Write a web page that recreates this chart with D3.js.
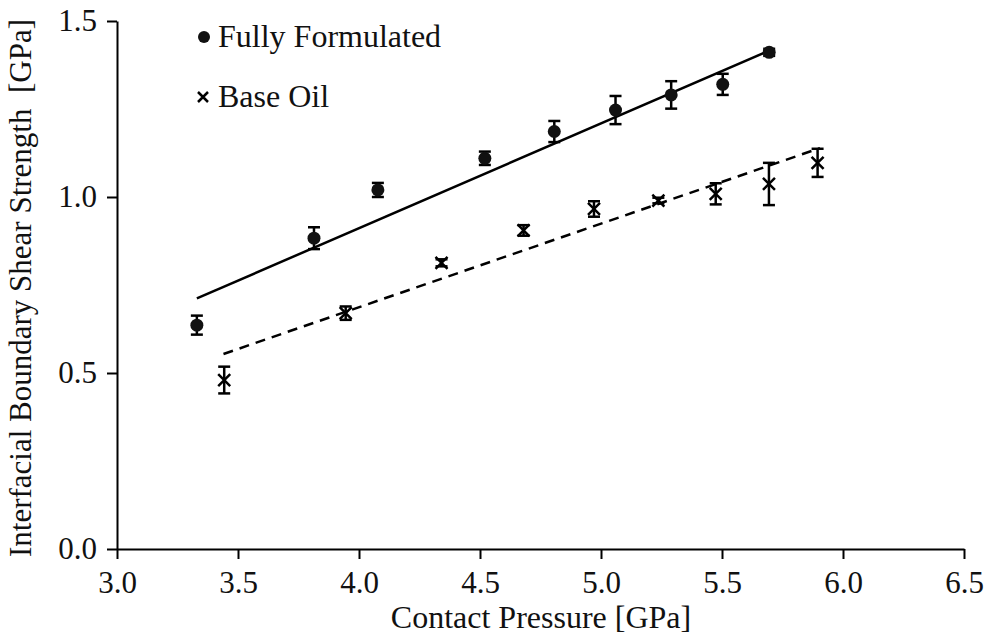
<!DOCTYPE html>
<html>
<head>
<meta charset="utf-8">
<script src="https://cdn.jsdelivr.net/npm/d3@7"></script>
<style>
body { margin: 0; background: #fff; }
</style>
</head>
<body>
<div></div>
<script>
var width = 985;
var height = 637;
var serif = "Liberation Serif";

// Fully Formulated
var ffPressure = [3.33, 3.814, 4.078, 4.52, 4.807, 5.06, 5.29, 5.503, 5.695];
var ffStrength = [0.636, 0.883, 1.020, 1.110, 1.186, 1.247, 1.290, 1.320, 1.411];
var ffError = [0.027, 0.031, 0.020, 0.019, 0.030, 0.040, 0.039, 0.030, 0.010];
var ffTrend = [[3.33, 0.712], [5.695, 1.416]];

// Base Oil
var boPressure = [3.443, 3.945, 4.341, 4.68, 4.971, 5.237, 5.474, 5.694, 5.895];
var boStrength = [0.480, 0.670, 0.813, 0.905, 0.966, 0.990, 1.009, 1.037, 1.097];
var boError = [0.038, 0.019, 0.010, 0.015, 0.022, 0.008, 0.030, 0.060, 0.040];
var boTrend = [[3.44, 0.554], [5.905, 1.139]];

var xTicks = [3.0, 3.5, 4.0, 4.5, 5.0, 5.5, 6.0, 6.5];
var yTicks = [0.0, 0.5, 1.0, 1.5];

var svg = d3.select("div")
	.append("svg")
	.attr("width", width)
	.attr("height", height);

var x = d3.scaleLinear().domain([3.0, 6.5]).range([117, 964]);
var y = d3.scaleLinear().domain([0, 1.5]).range([549, 21]);

var xAxis = svg.append("g")
	.attr("transform", "translate(0," + y(0) + ")")
	.call(d3.axisBottom(x).tickValues(xTicks).tickFormat(d3.format(".1f")).tickSize(10).tickSizeOuter(0).tickPadding(12));

var yAxis = svg.append("g")
	.attr("transform", "translate(" + x(3.0) + ",0)")
	.call(d3.axisLeft(y).tickValues(yTicks).tickFormat(d3.format(".1f")).tickSize(10).tickSizeOuter(0).tickPadding(10));

[xAxis, yAxis].forEach(ax => {
	ax.attr("font-family", serif).attr("font-size", 31);
	ax.select(".domain").attr("stroke", "#000").attr("stroke-width", 2);
	ax.selectAll(".tick line").attr("stroke", "#000").attr("stroke-width", 2);
	ax.selectAll(".tick text").attr("fill", "#111");
});

var line = d3.line().x(d => x(d[0])).y(d => y(d[1]));

svg.append("path")
	.datum(ffTrend)
	.attr("d", line)
	.attr("fill", "none")
	.attr("stroke", "#000")
	.attr("stroke-width", 2.5);

svg.append("path")
	.datum(boTrend)
	.attr("d", line)
	.attr("fill", "none")
	.attr("stroke", "#000")
	.attr("stroke-width", 2.5)
	.attr("stroke-dasharray", "10,7");

var drawErrors = (px, py, pe) => {
	var g = svg.append("g")
		.attr("stroke", "#000")
		.attr("stroke-width", 2.5);
	px.forEach((p, i) => {
		var cx = x(p);
		var top = y(py[i] + pe[i]);
		var bot = y(py[i] - pe[i]);
		g.append("line").attr("x1", cx).attr("x2", cx).attr("y1", top).attr("y2", bot);
		g.append("line").attr("x1", cx - 6).attr("x2", cx + 6).attr("y1", top).attr("y2", top);
		g.append("line").attr("x1", cx - 6).attr("x2", cx + 6).attr("y1", bot).attr("y2", bot);
	});
};

drawErrors(ffPressure, ffStrength, ffError);
drawErrors(boPressure, boStrength, boError);

svg.append("g")
	.selectAll("circle")
	.data(ffPressure)
	.enter()
	.append("circle")
	.attr("cx", d => x(d))
	.attr("cy", (d, i) => y(ffStrength[i]))
	.attr("r", 6.5)
	.attr("fill", "#111");

var cross = (g, cx, cy, s) => {
	g.append("path")
		.attr("d", "M" + (cx - s) + "," + (cy - s) + "L" + (cx + s) + "," + (cy + s) +
			"M" + (cx - s) + "," + (cy + s) + "L" + (cx + s) + "," + (cy - s))
		.attr("stroke", "#000")
		.attr("stroke-width", 2.5);
};

var crossG = svg.append("g");
boPressure.forEach((p, i) => cross(crossG, x(p), y(boStrength[i]), 6));

// legend
var legend = svg.append("g").attr("font-family", serif).attr("font-size", 32).attr("fill", "#111");
legend.append("circle").attr("cx", 204).attr("cy", 37).attr("r", 6).attr("fill", "#111");
legend.append("text").attr("x", 218).attr("y", 47).text("Fully Formulated");
cross(legend, 203, 97, 5);
legend.append("text").attr("x", 218).attr("y", 107).text("Base Oil");

// axis titles
svg.append("text")
	.attr("x", 541)
	.attr("y", 628)
	.attr("text-anchor", "middle")
	.attr("font-family", serif)
	.attr("font-size", 32)
	.attr("fill", "#111")
	.text("Contact Pressure [GPa]");

svg.append("text")
	.attr("transform", "translate(31,288) rotate(-90)")
	.attr("text-anchor", "middle")
	.attr("font-family", serif)
	.attr("font-size", 31)
	.attr("fill", "#111")
	.attr("xml:space", "preserve")
	.style("white-space", "pre")
	.text("Interfacial Boundary Shear Strength  [GPa]");
</script>
</body>
</html>
